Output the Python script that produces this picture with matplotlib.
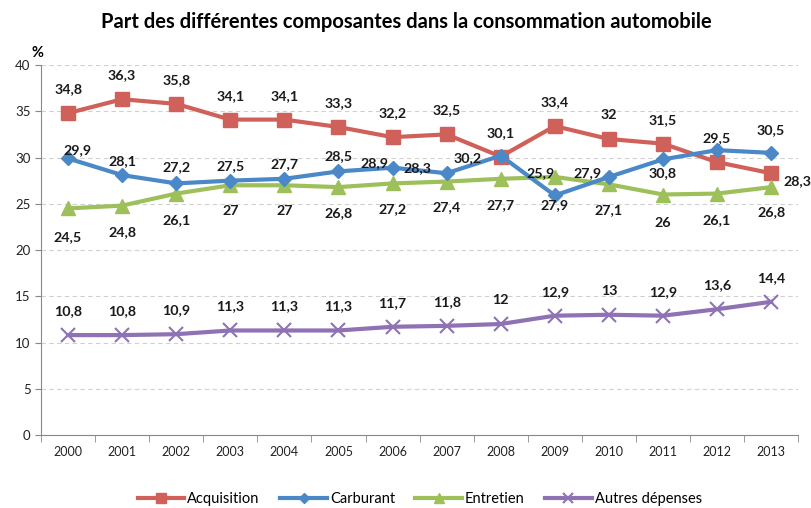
import numpy as np
import matplotlib
matplotlib.use("Agg")
import matplotlib.pyplot as plt

plt.rcParams['font.family'] = ['Lato', 'DejaVu Sans']

# Données
annees = ['2000', '2001', '2002', '2003', '2004', '2005', '2006',
          '2007', '2008', '2009', '2010', '2011', '2012', '2013']
acquisition = [34.8, 36.3, 35.8, 34.1, 34.1, 33.3, 32.2, 32.5, 30.1, 33.4, 32.0, 31.5, 29.5, 28.3]
carburant = [29.9, 28.1, 27.2, 27.5, 27.7, 28.5, 28.9, 28.3, 30.2, 25.9, 27.9, 29.8, 30.8, 30.5]
entretien = [24.5, 24.8, 26.1, 27.0, 27.0, 26.8, 27.2, 27.4, 27.7, 27.9, 27.1, 26.0, 26.1, 26.8]
autres = [10.8, 10.8, 10.9, 11.3, 11.3, 11.3, 11.7, 11.8, 12.0, 12.9, 13.0, 12.9, 13.6, 14.4]

# Etiquettes telles qu'affichées sur le graphique d'origine
lab_acq = ['34,8', '36,3', '35,8', '34,1', '34,1', '33,3', '32,2', '32,5', '30,1', '33,4', '32', '31,5', '29,5', '28,3']
lab_carb = ['29,9', '28,1', '27,2', '27,5', '27,7', '28,5', '28,9', '28,3', '30,2', '27,9', '27,9', '30,8', '', '30,5']
lab_ent = ['24,5', '24,8', '26,1', '27', '27', '26,8', '27,2', '27,4', '27,7', '25,9', '27,1', '26', '26,1', '26,8']
lab_aut = ['10,8', '10,8', '10,9', '11,3', '11,3', '11,3', '11,7', '11,8', '12', '12,9', '13', '12,9', '13,6', '14,4']

rouge = '#D0605A'
bleu = '#4A88C8'
vert = '#9DC05A'
violet = '#8E72B4'

x = np.arange(len(annees))

fig = plt.figure(figsize=(8.12, 5.08), dpi=100)
ax = fig.add_axes([0.0505, 0.1437, 0.9325, 0.7283])

ax.plot(x, acquisition, color=rouge, lw=3, marker='s', ms=10, label='Acquisition', zorder=3)
ax.plot(x, carburant, color=bleu, lw=3, marker='D', ms=7.5, label='Carburant', zorder=4)
ax.plot(x, entretien, color=vert, lw=3, marker='^', ms=10, label='Entretien', zorder=3)
ax.plot(x, autres, color=violet, lw=3, marker='x', ms=10, mew=1.5, label='Autres dépenses', zorder=3)

# décalages des étiquettes (pixels)
off_acq = [(0, 24)] * 13 + [(26, -8)]
off_carb = [(9, 8), (0, 14), (0, 16), (0, 15), (0, 15), (0, 15), (-18, 5), (-29, 5),
            (-33, -2), (0, -10), (-21, 4), (0, -14), (0, 0), (0, 23)]
off_ent = [(0, -29), (0, -26), (0, -26), (0, -26), (0, -26), (0, -26), (0, -26), (0, -26),
           (0, -26), (-14, 4), (0, -26), (0, -28), (0, -26), (0, -25)]
off_aut = [(0, 24)] * 14

for vals, labs, offs in [(acquisition, lab_acq, off_acq), (carburant, lab_carb, off_carb),
                         (entretien, lab_ent, off_ent), (autres, lab_aut, off_aut)]:
    for xi, v, t, o in zip(x, vals, labs, offs):
        if t:
            ax.annotate(t, (xi, v), xytext=o, textcoords='offset pixels',
                        ha='center', va='center', fontsize=10.3, fontweight='bold',
                        color='#1a1a1a', zorder=5)

ax.set_xlim(-0.5, len(annees) - 0.5)
ax.set_ylim(0, 40)
ax.set_yticks(range(0, 41, 5))
ax.set_xticks(x)
ax.set_xticklabels(annees)
ax.set_xticks(np.arange(-0.5, len(annees)), minor=True)
ax.tick_params(axis='x', which='major', length=0, labelsize=9, pad=8, colors='#222222')
ax.tick_params(axis='x', which='minor', length=5, color='#888888')
ax.tick_params(axis='y', length=4, color='#888888', labelsize=9.5, labelcolor='#222222')
ax.yaxis.grid(True, ls=(0, (4, 3)), color='#d0d0d0', lw=0.8)
ax.set_axisbelow(True)
for s in ['top', 'right']:
    ax.spines[s].set_visible(False)
for s in ['left', 'bottom']:
    ax.spines[s].set_color('#888888')

fig.text(0.046, 0.895, '%', fontsize=10.5, fontweight='bold', ha='center', va='center')
fig.suptitle('Part des différentes composantes dans la consommation automobile',
             x=0.5, y=0.957, fontsize=14.5, fontweight='bold', va='center')

fig.legend(loc='center', bbox_to_anchor=(0.517, 0.018), ncol=4, frameon=False,
           fontsize=10.5, handlelength=3.2, handletextpad=0.2, columnspacing=1.4,
           markerscale=0.7)

fig.savefig('out.png', dpi=100)
